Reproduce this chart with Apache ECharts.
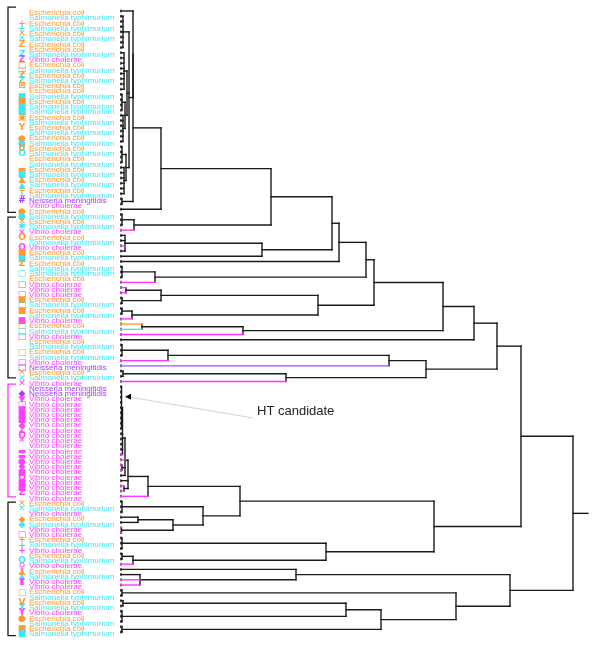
<!DOCTYPE html>
<html><head><meta charset="utf-8">
<script src="https://cdn.jsdelivr.net/npm/echarts@6/dist/echarts.min.js"></script>
<style>html,body{margin:0;padding:0;background:#fff}#c{width:600px;height:650px}</style>
</head><body><div id="c"></div>
<script>
// ---------- DATA ----------
const speciesNames = {E:'Escherichia coli', S:'Salmonella typhimurium', V:'Vibrio cholerae', N:'Neisseria meningitidis'};
// species of each leaf row, top to bottom (120 leaves)
const species = [
 'E','S','E','S','E','S','E','E','S','V',
 'E','S','E','S','E','E','S','E','S','S',
 'E','S','E','S','E','S','E','S','E','S',
 'E','S','E','S','E','S','N','V','E','S',
 'E','S','V','E','S','V','E','S','E','S',
 'S','E','V','V','V','E','S','E','S','V',
 'E','S','V','E','S','E','S','V','N','E',
 'S','V','N','N','V','V','V','V','V','V',
 'V','V','V','V','V','V','V','V','V','V',
 'V','V','V','V','E','S','V','E','S','V',
 'V','E','S','V','E','S','V','E','S','V',
 'V','E','S','E','S','V','E','S','E','S'];
// marker glyph shown before each label
const markers = [
 '','','+','+','✕','✕','Z','','Z','Z',
 '□','□','Z','Z','⊠','','■','■','■','■',
 '▣','','Y','','●','●','U','O','','',
 '▬','■','▲','▲','+','+','#','','●','●',
 '✕','✱','✕','O','','O','■','■','Z','',
 '□','','□','','□','■','□','■','','■',
 '□','□','□','','','□','','□','□','✕',
 '✕','✕','','◆','▼','□','■','■','■','◆',
 'Z','O','✕','','▬','▬','●','◆','■','O',
 '■','■','Z','','✕','✕','','◆','◆','',
 '□','+','+','+','','O','♀','▲','▲','▮',
 '','□','','V','Y','Y','●','','■','■'];
// clades: [height, child, child, ...]; a child is a leaf row or a clade
const Ax = [8, [2,1,2,3,4,5,6,7], [6, [3,8,9,10,11,12,13,14,15], [4, [1,16,17,18,19], [2,20,21,22,23,24,25]]], [5, [1,26,27,28,29], [3,30,31,32,33,34,35]]];
const P0 = [12, 0, Ax];
const A1 = [12, P0, [1,36,37]];
const A = [40, A1, 38];
const c271 = [150, A, [13, [1,39,40,41], 42]];
const c262 = [141, [4,43,44,45,46], 47];
const c332 = [211, c271, c262];
const c339 = [218, c332, 48];
const c155 = [34, [1,49,50,51], 52];
const c366 = [245, c339, c155];
const c161 = [40, [5,53,54], [1,55,56]];
const c132 = [11, [1,57,58], 59];
const c318 = [197, c161, c132];
const c374 = [253, c366, c318];
const c243 = [122, [21,60,61], 62];
const c443 = [322, c374, c243];
const c474 = [353, c443, 63];
const c168 = [47, [1,64,65,66], 67];
const c389 = [268, c168, 68];
const c286 = [165, [2,69,70], 71];
const c426 = [305, c389, c286];
const c497 = [376, c474, c426];
const Mc = [0.5, 72,73,74,75,76,77,78,79,80];
const Mb = [1.5, Mc, 81,82,83,84,85];
const Ma = [4, Mb, 86, [1,87,88], 89];
const Mtop = [7, Ma, 90, [3,91,92]];
const M = [27, Mtop, 93];
const c138 = [17, 97, 98];
const c173 = [52, c138, [0.5,99,100]];
const c203 = [82, [1,94,95,96], c173];
const c240 = [119, M, c203];
const c133 = [12, [1,104,105], 106];
const c326 = [205, [1,101,102,103], c133];
const c434 = [313, c240, c326];
const c521 = [400, c497, c434];
const c296 = [175, 107, [19,108,109,110]];
const c346 = [225, [2,113,114], [1,115,116,117]];
const c381 = [260, c346, [1,118,119]];
const c456 = [335, [1,111,112], c381];
const c510 = [389, c296, c456];
const root = [452, c521, c510];
// leaf rows whose terminal branch is drawn in the species colour
const tintedRows = [42,45,52,53,54,59,60,61,62,67,68,71,85,86,87,88,91,92,93,99,100,106,109,110];
// bracketed groups: [from row, to row, kind]
const groups = [[-0.75,38.6,'k'],[39.5,70.3,'k'],[71.5,93.1,'V'],[94.1,119.7,'k']];
// annotation
const htText = 'HT candidate';
const htTip = [4, 73.9];
const htLineEnd = [132, 78];
const htLabelAt = [136, 76.8];

// ---------- STYLE ----------
const BLACK = '#1a1a1a';
const textColor = {E:'#FF9A2E', S:'#3EE6F2', V:'#FF40FF', N:'#A040FF'};
const tintColor = {E:'#FF9A2E', S:'#3EE6F2', V:'#FF33FF', N:'#9955FF'};
const X_MAX = 467, N = species.length;

// ---------- BUILD SEGMENTS ----------
const tinted = new Set(tintedRows);
const segs = [];
function build(node){
  if (typeof node === 'number') return {h:0, r:node, leaf:true};
  const h = node[0];
  const kids = node.slice(1).map(build);
  const r = kids.reduce((s,k)=>s+k.r,0)/kids.length;
  let rmin=Infinity, rmax=-Infinity;
  kids.forEach(k=>{
    const col = (k.leaf && tinted.has(k.r)) ? tintColor[species[k.r]] : BLACK;
    segs.push([k.h, k.r, h, k.r, col]);
    rmin=Math.min(rmin,k.r); rmax=Math.max(rmax,k.r);
  });
  segs.push([h, rmin, h, rmax, BLACK]);
  return {h, r, leaf:false};
}
const rt = build(root);
segs.push([rt.h, rt.r, X_MAX, rt.r, BLACK]);
segs.sort((a,b)=> (a[4]===BLACK?0:1)-(b[4]===BLACK?0:1));

const chart = echarts.init(document.getElementById('c'), null, {renderer:'canvas'});
chart.setOption({
  animation:false,
  backgroundColor:'#fff',
  grid:{left:121, right:12, top:11, bottom:18},
  xAxis:{type:'value', min:0, max:X_MAX, show:false},
  yAxis:{type:'value', min:0, max:N-1, inverse:true, show:false},
  series:[
    { // leaf ticks
      type:'custom', silent:true,
      data: species.map((s,i)=>[0,i]),
      encode:{x:0,y:1},
      renderItem:(p,api)=>{
        const c = api.coord([api.value(0), api.value(1)]);
        return {type:'line', shape:{x1:c[0],y1:c[1]-1.5,x2:c[0],y2:c[1]+1.5}, style:{stroke:BLACK, lineWidth:1.2}};
      }
    },
    { // tree
      type:'custom', silent:true,
      data: segs.map(s=>[s[0],s[1],s[2],s[3]]),
      encode:{x:[0,2], y:[1,3]},
      renderItem:(p,api)=>{
        const s = segs[p.dataIndex];
        const a = api.coord([s[0],s[1]]), b = api.coord([s[2],s[3]]);
        return {type:'line', shape:{x1:a[0],y1:a[1],x2:b[0],y2:b[1]}, style:{stroke:s[4], lineWidth:1.4, lineCap:'square'}};
      }
    },
    { // labels
      type:'custom', silent:true,
      data: species.map((s,i)=>[0,i]),
      encode:{x:0,y:1},
      renderItem:(p,api)=>{
        const i = p.dataIndex, sp = species[i];
        const c = api.coord([0, api.value(1)]);
        const y = c[1] + 2;
        return {type:'group', children:[
          {type:'text', style:{x:22, y:y, text:markers[i], fill:textColor[sp], font:'bold 9px "DejaVu Sans"', align:'center', verticalAlign:'middle'}},
          {type:'text', style:{x:29, y:y, text:speciesNames[sp], fill:textColor[sp], font:'8px "Liberation Sans", Arial', align:'left', verticalAlign:'middle'}}
        ]};
      }
    },
    { // brackets
      type:'custom', silent:true,
      data: groups.map(g=>[0,g[0],g[1]]),
      encode:{x:0,y:[1,2]},
      renderItem:(p,api)=>{
        const g = groups[p.dataIndex];
        const t = api.coord([0,g[0]])[1], b = api.coord([0,g[1]])[1];
        return {type:'polyline', shape:{points:[[16,t],[8,t],[8,b],[16,b]]}, style:{stroke: g[2]==='V'?tintColor.V:BLACK, lineWidth:1.3, fill:null}};
      }
    },
    { // HT annotation
      type:'custom', silent:true,
      data:[[htTip[0],htTip[1]]],
      encode:{x:0,y:1},
      renderItem:(p,api)=>{
        const t = api.coord(htTip), e = api.coord(htLineEnd), l = api.coord(htLabelAt);
        return {type:'group', children:[
          {type:'line', shape:{x1:t[0]+5,y1:t[1]+0.5,x2:e[0],y2:e[1]}, style:{stroke:'#c8c8c8', lineWidth:0.8}},
          {type:'polygon', shape:{points:[[t[0],t[1]],[t[0]+6,t[1]-3],[t[0]+6,t[1]+3]]}, style:{fill:'#000'}},
          {type:'text', style:{x:l[0], y:l[1], text:htText, fill:'#222', font:'13px "Liberation Sans", Arial', align:'left', verticalAlign:'middle'}}
        ]};
      }
    }
  ]
});
</script></body></html>
